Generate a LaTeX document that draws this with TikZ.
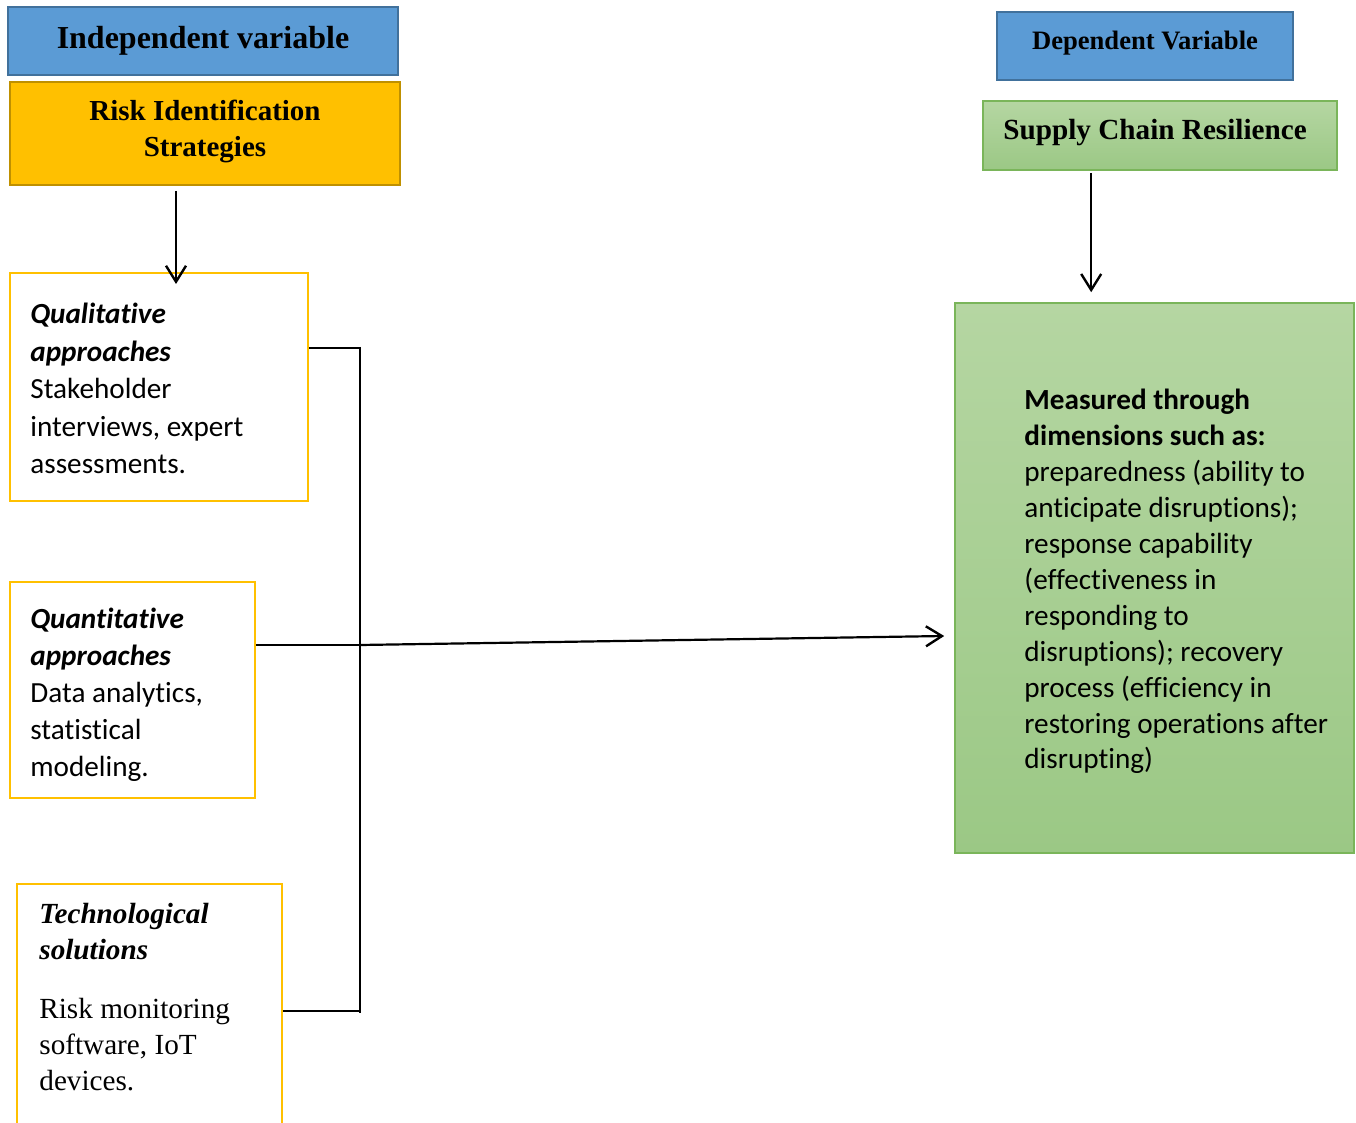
\documentclass[tikz,border=0pt]{standalone}
\usepackage{fontspec}
\setmainfont{Liberation Serif}
\newfontfamily\calibri[Ligatures=NoCommon]{Carlito}
\usetikzlibrary{arrows.meta,fit,calc}
\definecolor{hdrblue}{HTML}{5B9BD5}
\definecolor{hdrblueedge}{HTML}{41719C}
\definecolor{gold}{HTML}{FFC000}
\definecolor{goldedge}{HTML}{BF9000}
\definecolor{grtop}{HTML}{B5D6A2}
\definecolor{grbot}{HTML}{9BC885}
\definecolor{gredge}{HTML}{7AB55A}
\begin{document}
\begin{tikzpicture}[x=0.5pt,y=-0.5pt,
  bluebox/.style={fill=hdrblue, draw=hdrblueedge, line width=1.3pt, inner sep=0pt},
  goldbox/.style={fill=gold, draw=goldedge, line width=1pt, inner sep=0pt},
  ylbox/.style={fill=white, draw=gold, line width=1pt, inner sep=0pt},
  grbox/.style={top color=grtop, bottom color=grbot, draw=gredge, line width=0.8pt, inner sep=0pt},
  txt/.style={inner sep=0pt},
  conn/.style={line width=1.3pt, black},
  arr/.style={line width=1.1pt, black, -{Straight Barb[length=8pt,width=10pt,line width=1.2pt]}}
]
\useasboundingbox (0,0) rectangle (1356,1123);
\clip (0,0) rectangle (1356,1123);

% left column boxes
\node[bluebox, fit={(8,7) (398,75)}] (indep) {};
\node[txt, font=\fontsize{16}{19}\selectfont\bfseries] at (203,41) {Independent variable};

\node[goldbox, fit={(10,82) (400,185)}] (risk) {};
\node[txt, align=center, font=\fontsize{14.5}{18}\selectfont\bfseries] at (205,131) {Risk Identification\\Strategies};

\node[ylbox, fit={(10,273) (308,501)}] (qual) {};
\node[txt, anchor=base west] at (30,324) {\parbox[t]{140pt}{\calibri\fontsize{14.6}{18.75}\selectfont
\textbf{\textit{Qualitative}}\\
\textbf{\textit{approaches}}\\
Stakeholder\\
interviews, expert\\
assessments.}};

\node[ylbox, fit={(10,582) (255,798)}] (quant) {};
\node[txt, anchor=base west] at (30,628) {\parbox[t]{120pt}{\calibri\fontsize{14.6}{18.6}\selectfont
\textbf{\textit{Quantitative}}\\
\textbf{\textit{approaches}}\\
Data analytics,\\
statistical\\
modeling.}};

\node[ylbox, fit={(17,884) (282,1150)}] (tech) {};
\node[txt, anchor=base west] at (39,923) {\parbox[t]{130pt}{\fontsize{14.6}{18}\selectfont
\textbf{\textit{Technological}}\\
\textbf{\textit{solutions}}\\[11.5pt]
Risk monitoring\\
software, IoT\\
devices.}};

% right column
\node[bluebox, fit={(997,12) (1293,80)}] (dep) {};
\node[txt, font=\fontsize{13.3}{16}\selectfont\bfseries] at (1145,43) {Dependent Variable};

\node[grbox, fit={(983,101) (1337,170)}] (scr) {};
\node[txt, anchor=west, font=\fontsize{14.6}{18}\selectfont\bfseries] at (1003,133) {Supply Chain Resilience};

\node[grbox, fit={(955,303) (1354,853)}] (meas) {};
\node[txt, anchor=base west] at (1024,410) {\parbox[t]{170pt}{\calibri\fontsize{14.6}{17.95}\selectfont
\textbf{Measured through}\\
\textbf{dimensions such as:}\\
preparedness (ability to\\
anticipate disruptions);\\
response capability\\
(effectiveness in\\
responding to\\
disruptions); recovery\\
process (efficiency in\\
restoring operations after\\
disrupting)}};

% connectors
\coordinate (b1) at (360,348);
\coordinate (j) at (360,645);
\coordinate (b3) at (360,1011);
\coordinate (tip) at ($(meas.west)+(-10,58)$);

\draw[arr] ($(risk.south west)+(167,5)$) -- ($(qual.north west)+(167,12)$);
\draw[arr] ($(scr.south west)+(109,2)$) -- ($(meas.north west)+(137,-10)$);

\draw[conn] (b1 -| qual.east) -- (b1);
\draw[conn] (j -| quant.east) -- (j);
\draw[conn] (b3 -| tech.east) -- (b3);
\draw[line width=1pt] ($(b1)+(0,-1)$) -- ($(b3)+(0,2)$);
\draw[arr] (j) -- (tip);
\end{tikzpicture}
\end{document}
